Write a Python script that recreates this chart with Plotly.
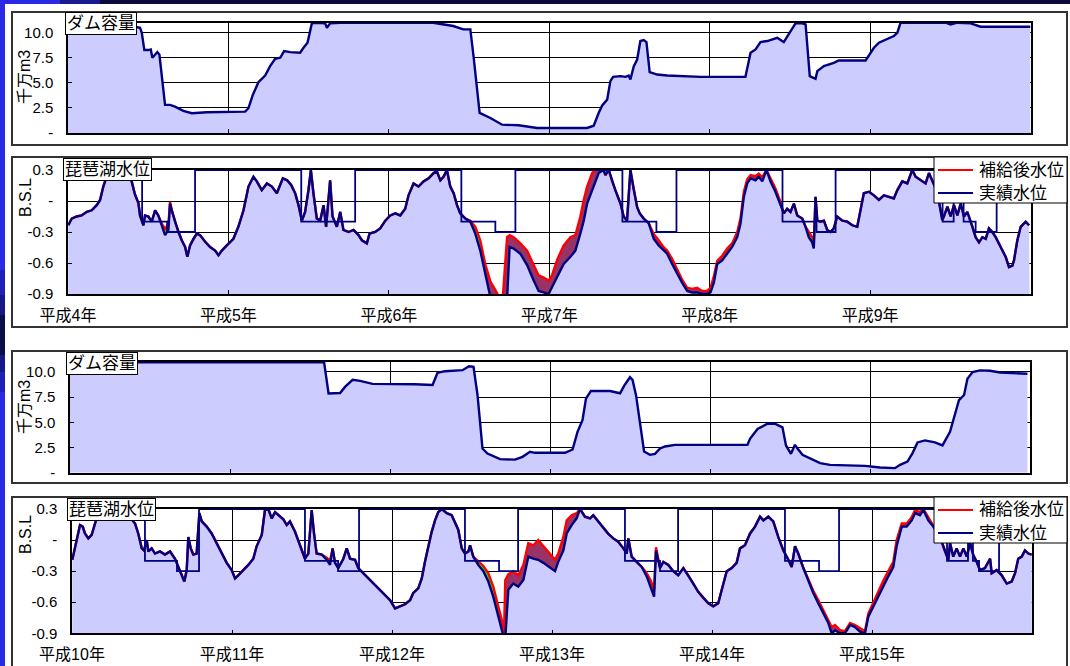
import plotly.graph_objects as go

W, H = 1070, 666
def px(x): return x / W
def py(y): return 1 - y / H

# ---------------- data ----------------
years_a = ["平成4年", "平成5年", "平成6年", "平成7年", "平成8年", "平成9年"]
years_b = ["平成10年", "平成11年", "平成12年", "平成13年", "平成14年", "平成15年"]
series_names = ["補給後水位", "実績水位"]

# dam storage (10^7 m3), years 4-9
dam_a_x = [0.000, 0.200, 0.356, 0.418, 0.449, 0.460, 0.470, 0.476, 0.501, 0.516,
           0.526, 0.543, 0.557, 0.570, 0.585, 0.595, 0.605, 0.636, 0.667, 0.719,
           0.772, 0.865, 0.990, 1.104, 1.125, 1.152, 1.187, 1.229, 1.260, 1.291,
           1.323, 1.347, 1.385, 1.447, 1.468, 1.493, 1.520, 1.551, 1.603, 1.614,
           1.634, 1.697, 2.277, 2.339, 2.402, 2.464, 2.508, 2.528, 2.550, 2.566,
           2.633, 2.706, 2.809, 2.924, 3.236, 3.277, 3.308, 3.329, 3.361, 3.381,
           3.398, 3.444, 3.475, 3.495, 3.506, 3.527, 3.548, 3.568, 3.589, 3.606,
           3.626, 3.673, 3.735, 3.943, 4.223, 4.255, 4.286, 4.317, 4.359, 4.421,
           4.462, 4.493, 4.535, 4.577, 4.598, 4.624, 4.660, 4.671, 4.712, 4.774,
           4.805, 4.972, 5.024, 5.055, 5.148, 5.170, 5.190, 5.471, 5.502, 5.544,
           5.627, 5.689, 6.000]
dam_a_y = [10.9, 10.9, 10.8, 10.6, 10.5, 10.0, 9.0, 8.27, 8.27, 8.33,
           7.5, 7.8, 8.07, 7.8, 5.6, 3.97, 2.8, 2.8, 2.63, 2.2,
           1.97, 2.07, 2.13, 2.13, 2.47, 3.8, 5.07, 5.73, 6.67, 7.4,
           7.5, 8.17, 8.07, 8.0, 8.5, 9.0, 10.93, 11.0, 10.93, 10.5,
           10.93, 11.0, 11.0, 10.83, 10.67, 10.33, 10.33, 7.67, 4.33, 2.0,
           1.5, 0.83, 0.77, 0.5, 0.5, 0.73, 2.0, 2.73, 3.33, 5.17,
           5.6, 5.67, 5.6, 5.73, 5.33, 6.67, 7.33, 9.17, 9.27, 9.07,
           6.07, 5.83, 5.73, 5.6, 5.6, 8.0, 8.33, 9.07, 9.17, 9.5,
           9.07, 9.83, 10.93, 10.93, 10.83, 5.67, 5.4, 6.17, 6.67, 7.0,
           7.23, 7.23, 8.5, 9.0, 9.67, 10.0, 11.0, 11.0, 10.83, 11.0,
           10.93, 10.6, 10.6]

# dam storage, years 10-15
dam_b_x = [0.000, 1.588, 1.616, 1.688, 1.719, 1.766, 1.813, 1.891, 2.156, 2.266,
           2.297, 2.344, 2.453, 2.494, 2.522, 2.547, 2.578, 2.609, 2.688, 2.781,
           2.828, 2.875, 2.906, 3.094, 3.141, 3.172, 3.203, 3.225, 3.256, 3.375,
           3.438, 3.463, 3.500, 3.516, 3.538, 3.563, 3.588, 3.625, 3.656, 3.688,
           3.719, 3.781, 4.234, 4.250, 4.297, 4.359, 4.406, 4.453, 4.475, 4.506,
           4.531, 4.547, 4.578, 4.688, 4.750, 4.969, 5.063, 5.156, 5.188, 5.234,
           5.266, 5.297, 5.344, 5.406, 5.453, 5.500, 5.531, 5.556, 5.588, 5.609,
           5.641, 5.688, 5.750, 5.813, 5.984]
dam_b_y = [10.95, 10.95, 7.86, 7.9, 8.5, 9.2, 9.1, 8.8, 8.77, 8.7,
           9.9, 10.06, 10.16, 10.55, 10.5, 7.7, 2.4, 1.9, 1.34, 1.3,
           1.57, 2.07, 1.97, 1.97, 2.3, 4.05, 5.2, 7.35, 8.1, 8.1,
           7.87, 8.6, 9.46, 9.2, 7.66, 5.08, 2.1, 1.77, 1.87, 2.4,
           2.6, 2.76, 2.76, 3.35, 4.34, 4.85, 4.85, 4.5, 2.7, 1.87,
           2.76, 2.4, 1.77, 0.95, 0.78, 0.68, 0.51, 0.45, 0.78, 1.1,
           1.94, 3.0, 3.2, 3.0, 2.7, 4.05, 5.87, 7.2, 7.7, 9.3,
           9.97, 10.14, 10.1, 9.93, 9.8]

# Lake Biwa level (B.S.L m), years 4-9
lake_a_x = [0.002, 0.023, 0.054, 0.085, 0.117, 0.148, 0.179, 0.200, 0.220, 0.241,
            0.274, 0.324, 0.374, 0.397, 0.418, 0.439, 0.449, 0.460, 0.470, 0.480,
            0.501, 0.522, 0.543, 0.563, 0.585, 0.605, 0.626, 0.636, 0.647, 0.667,
            0.688, 0.709, 0.730, 0.744, 0.761, 0.782, 0.803, 0.823, 0.855, 0.886,
            0.917, 0.938, 0.959, 0.990, 1.031, 1.062, 1.094, 1.125, 1.156, 1.177,
            1.208, 1.240, 1.271, 1.302, 1.339, 1.366, 1.391, 1.416, 1.437, 1.458,
            1.478, 1.499, 1.514, 1.530, 1.551, 1.572, 1.593, 1.609, 1.634, 1.649,
            1.676, 1.697, 1.717, 1.749, 1.780, 1.811, 1.832, 1.863, 1.880, 1.915,
            1.946, 1.978, 2.009, 2.040, 2.071, 2.102, 2.123, 2.154, 2.185, 2.216,
            2.248, 2.279, 2.300, 2.321, 2.341, 2.362, 2.383, 2.404, 2.425, 2.445,
            2.477, 2.508, 2.539, 2.570, 2.601, 2.622, 2.633, 2.653, 2.674, 2.695,
            2.712, 2.720, 2.737, 2.753, 2.778, 2.820, 2.862, 2.903, 2.934, 2.965,
            2.996, 3.017, 3.049, 3.090, 3.132, 3.163, 3.194, 3.215, 3.236, 3.267,
            3.288, 3.308, 3.339, 3.350, 3.371, 3.392, 3.412, 3.444, 3.464, 3.485,
            3.506, 3.527, 3.548, 3.564, 3.589, 3.620, 3.651, 3.682, 3.714, 3.735,
            3.766, 3.797, 3.828, 3.860, 3.891, 3.922, 3.953, 3.984, 4.005, 4.026,
            4.047, 4.078, 4.109, 4.140, 4.172, 4.192, 4.213, 4.234, 4.255, 4.286,
            4.306, 4.328, 4.354, 4.379, 4.410, 4.442, 4.462, 4.483, 4.504, 4.525,
            4.546, 4.577, 4.598, 4.618, 4.639, 4.649, 4.660, 4.671, 4.691, 4.712,
            4.733, 4.754, 4.774, 4.795, 4.827, 4.858, 4.889, 4.920, 4.941, 4.961,
            4.993, 5.024, 5.055, 5.086, 5.117, 5.148, 5.170, 5.201, 5.232, 5.263,
            5.284, 5.315, 5.346, 5.367, 5.388, 5.409, 5.429, 5.450, 5.460, 5.482,
            5.502, 5.523, 5.544, 5.565, 5.585, 5.606, 5.638, 5.658, 5.679, 5.700,
            5.721, 5.741, 5.762, 5.783, 5.814, 5.845, 5.866, 5.887, 5.897, 5.918,
            5.939, 5.970, 5.991]
lake_a_actual = [-0.235, -0.17, -0.15, -0.14, -0.105, -0.09, -0.04, 0.01, 0.14, 0.235,
                 0.29, 0.30, 0.28, 0.19, 0.06, -0.02, -0.14, -0.2, -0.235, -0.14,
                 -0.15, -0.2, -0.09, -0.14, -0.25, -0.33, -0.28, -0.025, -0.09, -0.2,
                 -0.3, -0.38, -0.445, -0.54, -0.43, -0.365, -0.315, -0.33, -0.395, -0.445,
                 -0.48, -0.525, -0.48, -0.43, -0.365, -0.25, -0.09, 0.14, 0.235, 0.19,
                 0.105, 0.17, 0.14, 0.075, 0.22, 0.2, 0.155, 0.075, -0.04, -0.19,
                 -0.105, 0.105, 0.3, 0.075, -0.17, -0.19, -0.04, -0.25, 0.2, -0.15,
                 -0.25, -0.105, -0.28, -0.3, -0.28, -0.33, -0.38, -0.41, -0.315, -0.3,
                 -0.265, -0.19, -0.14, -0.12, -0.14, -0.075, 0.055, 0.17, 0.14, 0.19,
                 0.22, 0.27, 0.285, 0.2, 0.235, 0.3, 0.14, 0.075, -0.04, -0.12,
                 -0.17, -0.2, -0.315, -0.48, -0.705, -0.865, -0.93, -0.95, -0.95, -0.95,
                 -0.95, -0.95, -0.95, -0.445, -0.46, -0.51, -0.62, -0.77, -0.87, -0.885,
                 -0.9, -0.835, -0.74, -0.61, -0.54, -0.48, -0.315, -0.19, -0.025, 0.105,
                 0.19, 0.27, 0.3, 0.25, 0.3, 0.19, 0.105, -0.025, -0.15, -0.19,
                 0.3, 0.105, -0.06, -0.12, -0.17, -0.215, -0.365, -0.43, -0.48, -0.51,
                 -0.61, -0.705, -0.79, -0.87, -0.885, -0.885, -0.9, -0.9, -0.885, -0.79,
                 -0.61, -0.575, -0.51, -0.445, -0.35, -0.22, 0.04, 0.17, 0.22, 0.2,
                 0.235, 0.19, 0.3, 0.19, 0.09, -0.04, -0.12, -0.075, -0.105, -0.025,
                 -0.14, -0.17, -0.25, -0.35, -0.4, -0.46, 0.04, -0.19, -0.2, -0.19,
                 -0.28, -0.3, -0.265, -0.15, -0.19, -0.2, -0.235, -0.25, -0.09, 0.075,
                 0.09, 0.055, 0.01, 0.055, 0.04, 0.025, 0.105, 0.19, 0.17, 0.3,
                 0.235, 0.2, 0.17, 0.27, 0.2, 0.12, 0.0, -0.185, -0.15, -0.055,
                 -0.15, -0.04, -0.14, -0.025, -0.15, -0.105, -0.25, -0.35, -0.4, -0.35,
                 -0.365, -0.265, -0.3, -0.35, -0.445, -0.54, -0.64, -0.625, -0.575, -0.38,
                 -0.25, -0.2, -0.235]
lake_a_supplied = [-0.235, -0.17, -0.15, -0.14, -0.105, -0.09, -0.04, 0.01, 0.14, 0.235,
                   0.29, 0.30, 0.28, 0.19, 0.06, -0.02, -0.14, -0.2, -0.235, -0.14,
                   -0.15, -0.2, -0.09, -0.14, -0.22, -0.27, -0.22, -0.01, -0.09, -0.2,
                   -0.3, -0.38, -0.445, -0.54, -0.43, -0.365, -0.315, -0.33, -0.395, -0.445,
                   -0.48, -0.525, -0.48, -0.43, -0.365, -0.25, -0.09, 0.14, 0.235, 0.19,
                   0.105, 0.17, 0.14, 0.075, 0.22, 0.2, 0.155, 0.075, -0.04, -0.19,
                   -0.105, 0.105, 0.3, 0.075, -0.17, -0.19, -0.04, -0.25, 0.2, -0.15,
                   -0.25, -0.105, -0.28, -0.3, -0.28, -0.33, -0.38, -0.41, -0.315, -0.3,
                   -0.265, -0.19, -0.14, -0.12, -0.14, -0.075, 0.055, 0.17, 0.14, 0.19,
                   0.22, 0.27, 0.285, 0.2, 0.235, 0.3, 0.14, 0.075, -0.04, -0.12,
                   -0.17, -0.19, -0.25, -0.38, -0.61, -0.72, -0.78, -0.83, -0.9, -0.95,
                   -0.9, -0.74, -0.35, -0.33, -0.35, -0.41, -0.48, -0.62, -0.72, -0.74,
                   -0.77, -0.72, -0.57, -0.43, -0.35, -0.33, -0.15, 0.01, 0.14, 0.27,
                   0.3, 0.31, 0.3, 0.25, 0.3, 0.19, 0.105, -0.025, -0.15, -0.19,
                   0.3, 0.105, -0.06, -0.12, -0.17, -0.215, -0.32, -0.38, -0.45, -0.48,
                   -0.56, -0.66, -0.76, -0.84, -0.85, -0.84, -0.87, -0.87, -0.84, -0.73,
                   -0.58, -0.53, -0.46, -0.41, -0.3, -0.17, 0.09, 0.21, 0.25, 0.24,
                   0.265, 0.23, 0.3, 0.22, 0.12, -0.01, -0.12, -0.075, -0.105, -0.025,
                   -0.14, -0.17, -0.25, -0.3, -0.35, -0.42, 0.04, -0.19, -0.2, -0.19,
                   -0.28, -0.3, -0.265, -0.15, -0.19, -0.2, -0.235, -0.25, -0.09, 0.075,
                   0.09, 0.055, 0.01, 0.055, 0.04, 0.025, 0.105, 0.19, 0.17, 0.3,
                   0.235, 0.2, 0.17, 0.27, 0.2, 0.12, 0.0, -0.185, -0.15, -0.055,
                   -0.15, -0.04, -0.14, -0.025, -0.15, -0.105, -0.25, -0.35, -0.4, -0.35,
                   -0.365, -0.265, -0.3, -0.35, -0.445, -0.54, -0.64, -0.625, -0.575, -0.38,
                   -0.25, -0.2, -0.235]
rule_a_x = [0, 0.462, 0.618, 0.792, 1.454, 1.790, 2.452, 2.664, 2.789, 3.456, 3.668,
            3.793, 4.454, 4.666, 4.785, 5.452, 5.521, 5.583, 5.658, 5.789, 6.0]
rule_a_y = [0.3, -0.2, -0.3, 0.3, -0.2, 0.3, -0.2, -0.3, 0.3, -0.2, -0.3,
            0.3, -0.2, -0.3, 0.3, -0.2, 0.3, -0.2, -0.3, 0.3, 0.3]
green_a = [(0.58, 0.63), (2.505, 2.605), (3.615, 3.66), (4.595, 4.65)]

# Lake Biwa level, years 10-15
lake_b_x = [0.002, 0.019, 0.036, 0.050, 0.067, 0.081, 0.102, 0.123, 0.144, 0.164,
            0.206, 0.269, 0.331, 0.394, 0.414, 0.436, 0.450, 0.467, 0.477, 0.498,
            0.519, 0.550, 0.581, 0.613, 0.644, 0.664, 0.686, 0.702, 0.717, 0.727,
            0.742, 0.758, 0.779, 0.796, 0.811, 0.842, 0.873, 0.904, 0.936, 0.967,
            0.998, 1.019, 1.039, 1.071, 1.102, 1.133, 1.154, 1.186, 1.206, 1.227,
            1.248, 1.269, 1.289, 1.321, 1.342, 1.362, 1.394, 1.414, 1.436, 1.456,
            1.477, 1.498, 1.513, 1.529, 1.561, 1.592, 1.613, 1.629, 1.644, 1.664,
            1.696, 1.717, 1.738, 1.769, 1.789, 1.821, 1.863, 1.904, 1.946, 1.988,
            2.019, 2.050, 2.081, 2.113, 2.133, 2.164, 2.186, 2.206, 2.227, 2.248,
            2.269, 2.289, 2.311, 2.342, 2.373, 2.394, 2.414, 2.436, 2.456, 2.477,
            2.488, 2.508, 2.539, 2.571, 2.602, 2.633, 2.664, 2.686, 2.700, 2.708,
            2.727, 2.758, 2.789, 2.821, 2.852, 2.883, 2.914, 2.946, 2.988, 3.019,
            3.039, 3.071, 3.092, 3.123, 3.154, 3.175, 3.206, 3.238, 3.258, 3.289,
            3.321, 3.352, 3.383, 3.414, 3.446, 3.467, 3.477, 3.498, 3.529, 3.561,
            3.592, 3.617, 3.638, 3.650, 3.675, 3.696, 3.727, 3.758, 3.789, 3.821,
            3.852, 3.883, 3.914, 3.946, 3.977, 4.008, 4.039, 4.061, 4.092, 4.123,
            4.154, 4.175, 4.206, 4.238, 4.269, 4.300, 4.321, 4.352, 4.383, 4.414,
            4.446, 4.477, 4.498, 4.519, 4.539, 4.571, 4.602, 4.633, 4.664, 4.696,
            4.727, 4.748, 4.769, 4.800, 4.831, 4.863, 4.894, 4.925, 4.956, 4.977,
            5.008, 5.039, 5.071, 5.102, 5.133, 5.154, 5.186, 5.217, 5.248, 5.269,
            5.300, 5.321, 5.352, 5.383, 5.425, 5.456, 5.477, 5.488, 5.508, 5.529,
            5.550, 5.571, 5.592, 5.613, 5.633, 5.654, 5.675, 5.706, 5.738, 5.748,
            5.779, 5.811, 5.842, 5.873, 5.894, 5.914, 5.936, 5.956, 5.977, 5.998]
lake_b_actual = [-0.19, -0.08, 0.03, 0.145, 0.13, 0.064, 0.016, 0.05, 0.16, 0.26,
                 0.3, 0.3, 0.28, 0.16, 0.064, -0.08, -0.1, 0.0, -0.11, -0.08,
                 -0.13, -0.11, -0.14, -0.11, -0.18, -0.26, -0.35, -0.4, -0.29, 0.03,
                 -0.08, -0.14, -0.13, 0.26, 0.18, 0.13, 0.064, -0.03, -0.13, -0.22,
                 -0.29, -0.37, -0.34, -0.29, -0.24, -0.18, -0.06, 0.05, 0.29, 0.3,
                 0.21, 0.27, 0.24, 0.2, 0.145, 0.18, 0.08, 0.0, -0.1, -0.18,
                 -0.13, 0.29, 0.06, -0.13, -0.14, -0.19, -0.24, -0.08, -0.22, -0.27,
                 -0.18, -0.08, -0.18, -0.19, -0.27, -0.32, -0.385, -0.45, -0.51, -0.58,
                 -0.66, -0.64, -0.62, -0.58, -0.51, -0.466, -0.37, -0.21, -0.06, 0.08,
                 0.19, 0.27, 0.3, 0.26, 0.24, 0.16, 0.1, -0.08, -0.13, -0.11,
                 -0.05, -0.16, -0.24, -0.3, -0.4, -0.546, -0.74, -0.9, -0.95, -0.95,
                 -0.48, -0.42, -0.45, -0.385, -0.16, -0.18, -0.19, -0.22, -0.27, -0.3,
                 -0.21, -0.1, 0.064, 0.145, 0.21, 0.3, 0.226, 0.21, 0.24, 0.18,
                 0.11, 0.06, 0.016, -0.016, -0.08, -0.13, 0.016, -0.16, -0.21, -0.26,
                 -0.35, -0.45, -0.546, -0.1, -0.27, -0.21, -0.24, -0.3, -0.34, -0.27,
                 -0.34, -0.42, -0.5, -0.56, -0.61, -0.64, -0.61, -0.48, -0.3, -0.27,
                 -0.22, -0.08, -0.05, 0.064, 0.13, 0.226, 0.19, 0.226, 0.18, 0.03,
                 -0.1, -0.19, -0.26, -0.06, -0.13, -0.27, -0.4, -0.51, -0.61, -0.71,
                 -0.8, -0.9, -0.87, -0.9, -0.9, -0.82, -0.84, -0.885, -0.9, -0.74,
                 -0.64, -0.546, -0.45, -0.35, -0.26, -0.06, 0.13, 0.13, 0.19, 0.26,
                 0.24, 0.29, 0.19, 0.13, 0.03, -0.11, -0.19, -0.03, -0.16, -0.08,
                 -0.16, -0.08, -0.16, -0.03, -0.145, -0.21, -0.29, -0.27, -0.18, -0.32,
                 -0.29, -0.34, -0.42, -0.4, -0.32, -0.18, -0.16, -0.1, -0.13, -0.14]
lake_b_supplied = [-0.19, -0.08, 0.03, 0.145, 0.13, 0.064, 0.016, 0.05, 0.16, 0.26,
                   0.3, 0.3, 0.28, 0.16, 0.064, -0.08, -0.1, 0.0, -0.11, -0.08,
                   -0.13, -0.11, -0.14, -0.11, -0.18, -0.26, -0.35, -0.4, -0.29, 0.03,
                   -0.08, -0.14, -0.13, 0.26, 0.18, 0.13, 0.064, -0.03, -0.13, -0.22,
                   -0.29, -0.37, -0.34, -0.29, -0.24, -0.18, -0.06, 0.05, 0.29, 0.3,
                   0.21, 0.27, 0.24, 0.2, 0.145, 0.18, 0.08, 0.0, -0.1, -0.18,
                   -0.13, 0.29, 0.06, -0.13, -0.14, -0.17, -0.2, -0.08, -0.22, -0.27,
                   -0.18, -0.08, -0.18, -0.19, -0.27, -0.32, -0.385, -0.45, -0.51, -0.58,
                   -0.66, -0.64, -0.62, -0.58, -0.51, -0.466, -0.37, -0.21, -0.06, 0.08,
                   0.19, 0.27, 0.3, 0.26, 0.24, 0.16, 0.1, -0.08, -0.13, -0.11,
                   -0.05, -0.16, -0.2, -0.25, -0.32, -0.45, -0.64, -0.77, -0.9, -0.385,
                   -0.33, -0.3, -0.34, -0.24, -0.03, -0.05, 0.0, -0.06, -0.14, -0.19,
                   -0.13, 0.03, 0.19, 0.24, 0.26, 0.3, 0.226, 0.21, 0.24, 0.18,
                   0.11, 0.06, 0.016, -0.016, -0.08, -0.13, 0.016, -0.16, -0.21, -0.26,
                   -0.32, -0.39, -0.48, -0.07, -0.27, -0.21, -0.24, -0.3, -0.34, -0.27,
                   -0.34, -0.42, -0.5, -0.56, -0.61, -0.64, -0.61, -0.48, -0.3, -0.27,
                   -0.22, -0.08, -0.05, 0.064, 0.13, 0.226, 0.19, 0.226, 0.18, 0.03,
                   -0.1, -0.19, -0.26, -0.06, -0.13, -0.27, -0.38, -0.49, -0.58, -0.68,
                   -0.77, -0.84, -0.82, -0.87, -0.88, -0.8, -0.82, -0.85, -0.88, -0.71,
                   -0.6, -0.5, -0.39, -0.3, -0.21, 0.0, 0.16, 0.16, 0.22, 0.29,
                   0.27, 0.3, 0.22, 0.13, 0.03, -0.11, -0.19, -0.03, -0.16, -0.08,
                   -0.16, -0.08, -0.16, -0.03, -0.145, -0.21, -0.29, -0.27, -0.18, -0.32,
                   -0.29, -0.34, -0.42, -0.4, -0.32, -0.18, -0.16, -0.1, -0.13, -0.14]
rule_b_x = [0, 0.456, 0.656, 0.794, 1.456, 1.663, 1.794, 2.456, 2.669, 2.788, 3.456,
            3.675, 3.788, 4.456, 4.669, 4.794, 5.469, 5.600, 5.631, 5.669, 5.794, 6.0]
rule_b_y = [0.3, -0.2, -0.3, 0.3, -0.2, -0.3, 0.3, -0.2, -0.3, 0.3, -0.2,
            -0.3, 0.3, -0.2, -0.3, 0.3, -0.2, 0.3, -0.2, -0.3, 0.3, 0.3]
green_b = [(1.59, 1.615), (2.53, 2.67), (3.56, 3.64)]

# ---------------- styling ----------------
NAVY = "#000080"
LAV = "#ccccff"
RED = "#ff0000"
MAROON = "#993366"
GREEN = "#00ff00"
CLEAR = "rgba(0,0,0,0)"
NUMF = "Liberation Sans, Arial, Noto Sans CJK JP"

fig = go.Figure()


def add_dam(xs, ys, k):
    fig.add_trace(go.Scatter(x=xs, y=ys, mode="lines", fill="tozeroy", fillcolor=LAV,
                             line=dict(color=NAVY, width=2.4), xaxis="x%s" % k, yaxis="y%s" % k,
                             showlegend=False, hoverinfo="skip"))


def add_lake(xs, actual, supplied, rx, ry, greens, k):
    n = min(len(xs), len(actual), len(supplied))
    xs, actual, supplied = xs[:n], actual[:n], supplied[:n]
    ax = dict(xaxis="x%s" % k, yaxis="y%s" % k, hoverinfo="skip", showlegend=False)
    fig.add_trace(go.Scatter(x=[0, 6], y=[-2, -2], mode="lines", line=dict(width=0, color=CLEAR), **ax))
    fig.add_trace(go.Scatter(x=xs, y=actual, mode="lines", fill="tonexty", fillcolor=LAV,
                             line=dict(width=0, color=CLEAR), **ax))
    fig.add_trace(go.Scatter(x=xs, y=actual, mode="lines", line=dict(width=0, color=CLEAR), **ax))
    fig.add_trace(go.Scatter(x=xs, y=supplied, mode="lines", fill="tonexty", fillcolor=MAROON,
                             line=dict(width=0, color=CLEAR), **ax))
    for a, b in greens:
        idx = [i for i, v in enumerate(xs) if a <= v <= b]
        gx = [xs[i] for i in idx] + [xs[i] for i in idx[::-1]]
        gy = [supplied[i] for i in idx] + [actual[i] for i in idx[::-1]]
        fig.add_trace(go.Scatter(x=gx, y=gy, mode="lines", fill="toself", fillcolor=GREEN,
                                 line=dict(width=0, color=CLEAR), **ax))
    fig.add_trace(go.Scatter(x=xs, y=supplied, mode="lines", name=series_names[0],
                             line=dict(color=RED, width=2.4), **ax))
    fig.add_trace(go.Scatter(x=rx, y=ry, mode="lines", line_shape="hv",
                             line=dict(color=NAVY, width=1.8), **ax))
    fig.add_trace(go.Scatter(x=xs, y=actual, mode="lines", name=series_names[1],
                             line=dict(color=NAVY, width=2.4), **ax))


add_dam(dam_a_x, dam_a_y, "")
add_lake(lake_a_x, lake_a_actual, lake_a_supplied, rule_a_x, rule_a_y, green_a, "2")
add_dam(dam_b_x, dam_b_y, "3")
add_lake(lake_b_x, lake_b_actual, lake_b_supplied, rule_b_x, rule_b_y, green_b, "4")


def xcfg(x0, x1, anchor, labels):
    d = dict(domain=[px(x0), px(x1)], anchor=anchor, range=[0, 6], showgrid=True,
             gridcolor="#000000", gridwidth=1, showline=True, linecolor="#000000", linewidth=1.5,
             mirror=True, ticks="inside", ticklen=4, tickcolor="#000000", automargin=False,
             tickvals=[0, 1, 2, 3, 4, 5, 6], zeroline=False, fixedrange=True)
    if labels:
        d.update(ticktext=labels + [""], showticklabels=True, ticklabelstandoff=6,
                 tickfont=dict(family=NUMF, size=16, color="black"))
    else:
        d.update(showticklabels=False)
    return d


def ycfg(y0, y1, anchor, kind):
    d = dict(domain=[py(y1), py(y0)], anchor=anchor, showgrid=True, gridcolor="#000000",
             gridwidth=1, showline=True, linecolor="#000000", linewidth=1.5, mirror=True,
             ticks="inside", ticklen=4, tickcolor="#000000", zeroline=False, fixedrange=True,
             automargin=False, ticklabelstandoff=10,
             tickfont=dict(family=NUMF, size=15, color="black"))
    if kind == "dam":
        d.update(range=[0, 11], tickvals=[0, 2.5, 5, 7.5, 10],
                 ticktext=["-", "2.5", "5.0", "7.5", "10.0"])
    else:
        d.update(range=[-0.9, 0.3], tickvals=[-0.9, -0.6, -0.3, 0, 0.3],
                 ticktext=["-0.9", "-0.6", "-0.3", "-", "0.3"])
    return d


shapes = []
# slide background strips
shapes.append(dict(type="rect", xref="paper", yref="paper", x0=0, x1=px(5), y0=0, y1=1,
                   fillcolor="#2a2ae6", line=dict(width=0), layer="below"))
for (a, b, c) in [(270, 295, "#2020b8"), (295, 315, "#18188a"), (315, 355, "#0c0c48"),
                  (355, 372, "#18188a"), (372, 392, "#2020b8")]:
    shapes.append(dict(type="rect", xref="paper", yref="paper", x0=0, x1=px(5), y0=py(b), y1=py(a),
                       fillcolor=c, line=dict(width=0), layer="below"))
shapes.append(dict(type="rect", xref="paper", yref="paper", x0=px(0), x1=px(60), y0=py(4), y1=1,
                   fillcolor="#2a2ae6", line=dict(width=0), layer="below"))
shapes.append(dict(type="rect", xref="paper", yref="paper", x0=px(60), x1=px(100), y0=py(4), y1=1,
                   fillcolor="#1a1a90", line=dict(width=0), layer="below"))
shapes.append(dict(type="rect", xref="paper", yref="paper", x0=px(100), x1=1, y0=py(4), y1=1,
                   fillcolor="#0a0a3c", line=dict(width=0), layer="below"))
# panel frames
for (t, b) in [(12, 145), (157, 327), (351, 483), (497, 700)]:
    shapes.append(dict(type="rect", xref="paper", yref="paper", x0=px(12), x1=px(1067),
                       y0=py(b), y1=py(t), fillcolor="white",
                       line=dict(color="#333333", width=2), layer="below"))

annotations = []
for (x, y, t) in [(65, 12, "ダム容量"), (63, 158, "琵琶湖水位"), (66, 352, "ダム容量"), (67, 498, "琵琶湖水位")]:
    annotations.append(dict(x=px(x), y=py(y), xref="paper", yref="paper", xanchor="left",
                            yanchor="top", text=t, showarrow=False,
                            font=dict(family=NUMF, size=17, color="black"), bgcolor="white",
                            bordercolor="black", borderwidth=1, borderpad=1))
for (x, y, t, s) in [(24, 77, "千万m3", 16), (25, 198, "B.S.L", 16), (24, 407, "千万m3", 16), (25, 535, "B.S.L", 16)]:
    annotations.append(dict(x=px(x), y=py(y), xref="paper", yref="paper", xanchor="center",
                            yanchor="middle", text=t, textangle=-90, showarrow=False,
                            font=dict(family=NUMF, size=s, color="black")))

# legends (one per lake panel): box, line samples and labels
for top in (157, 497):
    shapes.append(dict(type="rect", xref="paper", yref="paper", x0=px(934), x1=px(1067),
                       y0=py(top + 46), y1=py(top), fillcolor="white",
                       line=dict(color="black", width=1), layer="above"))
    for j, (name, col) in enumerate(zip(series_names, [RED, NAVY])):
        yy = top + 13 + 23 * j
        shapes.append(dict(type="line", xref="paper", yref="paper", x0=px(938), x1=px(973),
                           y0=py(yy), y1=py(yy), line=dict(color=col, width=2), layer="above"))
        annotations.append(dict(x=px(977), y=py(yy), xref="paper", yref="paper", xanchor="left",
                                yanchor="middle", text=name, showarrow=False,
                                font=dict(family=NUMF, size=17, color="black")))

fig.update_layout(
    template="none",
    width=W, height=H, margin=dict(l=0, r=0, t=0, b=0, autoexpand=False),
    paper_bgcolor="white", plot_bgcolor=CLEAR, showlegend=False,
    xaxis=xcfg(68, 1030.5, "y", None), yaxis=ycfg(22.7, 133, "x", "dam"),
    xaxis2=xcfg(68, 1030.5, "y2", years_a), yaxis2=ycfg(170, 294, "x2", "lake"),
    xaxis3=xcfg(70, 1030, "y3", None), yaxis3=ycfg(361.7, 472.7, "x3", "dam"),
    xaxis4=xcfg(72, 1032, "y4", years_b), yaxis4=ycfg(509, 633.3, "x4", "lake"),
    shapes=shapes, annotations=annotations, hovermode=False,
)

fig.write_html(
    "out.html",
    config={"displayModeBar": False},
    post_script="document.body.style.margin='0';document.body.style.padding='0';"
                "document.body.style.overflow='hidden';",
)
